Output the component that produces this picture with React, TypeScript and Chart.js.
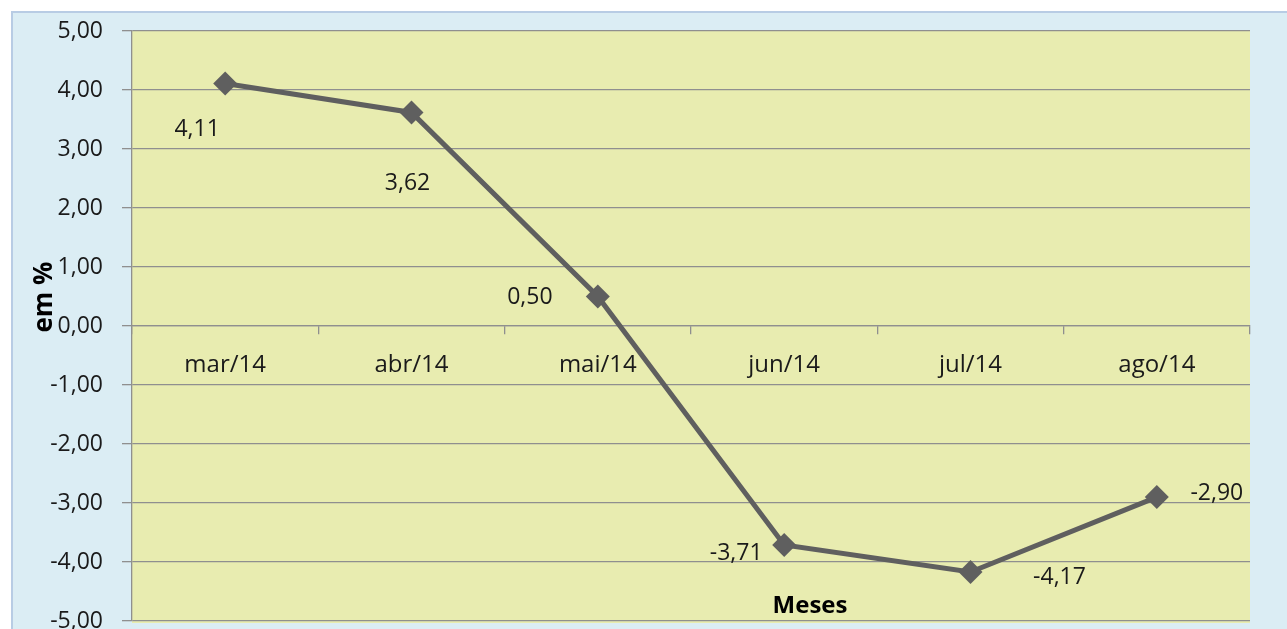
import React, { useEffect, useRef } from "react";
import { Chart, registerables } from "chart.js";

Chart.register(...registerables);

const categories = ["mar/14", "abr/14", "mai/14", "jun/14", "jul/14", "ago/14"];
const values = [4.11, 3.62, 0.5, -3.71, -4.17, -2.9];
const valueLabels = ["4,11", "3,62", "0,50", "-3,71", "-4,17", "-2,90"];
// label offsets (dx, dy) relative to each point, as placed in the original
const labelDx = [-28, -4, -68, -48, 89, 60];
const labelDy = [46, 71, 1, 9, 5, -4];
const yMin = -5;
const yMax = 5;
const yStep = 1;
const xTitle = "Meses";
const yTitle = "em %";

const FONT = "'Open Sans', 'Noto Sans', sans-serif";
const GRID = "#8f8f8f";

const bgPlugin = {
  id: "bg",
  beforeDraw(chart: any) {
    const { ctx, chartArea } = chart;
    ctx.save();
    ctx.fillStyle = "#ffffff";
    ctx.fillRect(0, 0, chart.width, chart.height);
    ctx.fillStyle = "#dbedf4";
    ctx.fillRect(11, 11, chart.width - 11, chart.height - 11);
    ctx.strokeStyle = "#b8cce4";
    ctx.lineWidth = 2;
    ctx.beginPath();
    ctx.moveTo(12, chart.height);
    ctx.lineTo(12, 12);
    ctx.lineTo(chart.width, 12);
    ctx.stroke();
    ctx.fillStyle = "#e8ecb0";
    ctx.fillRect(chartArea.left, chartArea.top, chartArea.right - chartArea.left, chartArea.bottom - chartArea.top + 2);
    ctx.restore();
  },
};

const labelPlugin = {
  id: "labels",
  afterDatasetsDraw(chart: any) {
    const { ctx } = chart;
    const meta = chart.getDatasetMeta(0);
    ctx.save();
    ctx.font = `23px ${FONT}`;
    ctx.fillStyle = "#1a1a1a";
    ctx.textAlign = "center";
    ctx.textBaseline = "middle";
    meta.data.forEach((pt: any, i: number) => {
      ctx.fillText(valueLabels[i], pt.x + labelDx[i], pt.y + labelDy[i]);
    });
    // axis titles
    ctx.font = `bold 24px ${FONT}`;
    ctx.fillStyle = "#000000";
    const xs = chart.scales.x;
    ctx.fillText(xTitle, (xs.left + xs.right) / 2 + 119, 606);
    ctx.translate(45, 297);
    ctx.rotate(-Math.PI / 2);
    ctx.font = `bold 26px ${FONT}`;
    ctx.fillText(yTitle, 0, 0);
    ctx.restore();
  },
};

export default function App() {
  const ref = useRef<HTMLCanvasElement>(null);
  useEffect(() => {
    if (!ref.current) return;
    const chart = new Chart(ref.current, {
      type: "line",
      data: {
        labels: categories,
        datasets: [
          {
            data: values,
            borderColor: "#5f5f5f",
            backgroundColor: "#5f5f5f",
            borderWidth: 5,
            pointStyle: "rectRot",
            pointRadius: 12,
            pointBackgroundColor: "#5f5f5f",
            pointBorderWidth: 0,
            tension: 0,
          },
        ],
      },
      options: {
        responsive: false,
        animation: false,
        devicePixelRatio: 1,
        layout: { padding: { left: 0, top: 31, right: 37, bottom: 6 } },
        plugins: { legend: { display: false }, tooltip: { enabled: false }, title: { display: false } },
        scales: {
          x: {
            type: "category",
            position: { y: 0 } as any,
            offset: true,
            grid: {
              display: true,
              drawOnChartArea: false,
              drawTicks: true,
              tickLength: 8,
              color: GRID,
              offset: true,
              lineWidth: 1.3,
            },
            border: { display: true, color: GRID, width: 1.3 },
            ticks: { font: { family: FONT, size: 24 }, color: "#1a1a1a", padding: 17, maxRotation: 0, autoSkip: false },
            afterFit(scale: any) {
              scale.height = 0;
              scale.paddingLeft = 0;
              scale.paddingRight = 0;
            },
          },
          y: {
            min: yMin,
            max: yMax,
            ticks: {
              stepSize: yStep,
              font: { family: FONT, size: 23 },
              color: "#1a1a1a",
              padding: 19,
              callback: (v: any) => Number(v).toFixed(2).replace(".", ","),
            },
            grid: { color: GRID, lineWidth: 1.3, tickLength: 10, drawTicks: true },
            border: { display: true, color: GRID, width: 1.3 },
            afterFit(scale: any) {
              scale.width = 132;
              scale.paddingTop = 0;
              scale.paddingBottom = 0;
            },
          },
        },
      },
      plugins: [bgPlugin, labelPlugin],
    });
    return () => chart.destroy();
  }, []);
  return (
    <div style={{ position: "fixed", left: 0, top: 0, width: 1287, height: 629, background: "#fff", overflow: "hidden" }}>
      <canvas ref={ref} width={1287} height={633} style={{ display: "block" }} />
    </div>
  );
}
